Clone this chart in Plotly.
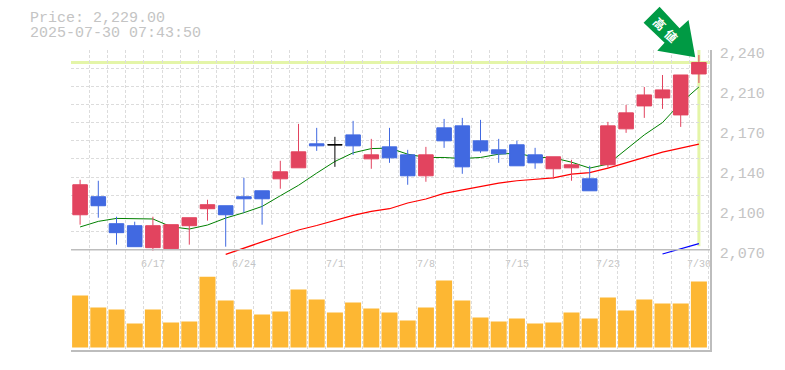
import plotly.graph_objects as go

dates = ["6/11","6/12","6/13","6/16","6/17","6/18","6/19","6/20","6/23","6/24","6/25","6/26","6/27","6/30",
         "7/1","7/2","7/3","7/4","7/7","7/8","7/9","7/10","7/11","7/14","7/15","7/16","7/17","7/18","7/22",
         "7/23","7/24","7/25","7/28","7/29","7/30"]
labelled = ["6/17","6/24","7/1","7/8","7/15","7/23","7/30"]

opens = [2095.6,2111.4,2087.75,2086,2066.75,2065.9,2086,2100.9,2103.5,2111.4,2116.6,2127.1,2136.75,2157.75,
         None,2165.6,2144.6,2155.1,2148.1,2129.75,2171.75,2173.5,2160.4,2152.5,2156.9,2148.1,2135.9,2136.75,2127.1,
         2139.4,2170.9,2191,2198,2183.1,2219]
highs = [2126.25,2125.4,2093.9,2089.5,2093.9,2086.9,2093,2108.75,2103.5,2128,2116.6,2142.9,2175.25,2171.75,
         None,2177.9,2162.1,2171.75,2152.5,2155.1,2179.6,2180.5,2178.75,2162.1,2160.4,2154.25,2146.4,2143.75,2138.5,
         2177,2191.9,2207.6,2218.1,2218.1,2235.6]
lows = [2086.9,2093,2069.4,2067.6,2064.1,2065.9,2069.4,2090.4,2067.6,2097.4,2086.9,2118.4,2136.75,2151.6,
        None,2148.1,2135.9,2141.1,2121.9,2124.5,2154.25,2131.5,2149.9,2141.1,2138.5,2135.9,2127.1,2125.4,2116.6,
        2136.75,2167.4,2180.5,2188.4,2172.6,2211.1]
closes = [2121.9,2103.5,2079.9,2067.6,2086,2086.9,2093,2104.4,2095.6,2109.6,2109.6,2133.25,2150.75,2156,
          None,2156,2148.1,2145.5,2129.75,2148.1,2160.4,2137.6,2151.6,2149,2138.5,2141.1,2146.4,2139.4,2116.6,
          2173.5,2184.9,2200.6,2205,2218.1,2229]
doji_date = ["7/1"]
doji_open = [2156.9]
doji_high = [2163.9]
doji_low = [2137.6]
doji_close = [2156.9]

ma_short = [2084.9,2089.8,2092.4,2091.9,2091.9,2085.1,2083.1,2086.6,2092.7,2097.4,2102.9,2112.25,2121.4,2132.1,
            2142.3,2149.9,2153.6,2154,2148.7,2145.8,2145.8,2144.9,2145.8,2148.7,2149.6,2146.1,2145.5,2141.7,2136.5,
            2140,2152.5,2165.6,2176.4,2193.6,2207.6]
ma_mid = [2060.9,2066.5,2071.8,2077,2082.2,2086.2,2090.4,2095,2098.5,2100.9,2105.9,2109.4,2114.3,2117.2,2120.1,
          2123.4,2125.4,2126.5,2128,2131.2,2132.6,2136.5,2141.1,2146.1,2150.5,2154,2157.5]
ma_long = [2061.2,2065.9,2070.3]
volumes = [52000,40000,38000,24000,38000,25000,26000,71000,47000,38000,33000,36000,58000,48000,35000,45000,39000,
           35000,27000,40000,67000,47000,30000,26000,29000,24000,25000,35000,29000,50000,37000,48000,44000,44000,66000]
last_price = 2229
price_ticks = [2240,2205,2170,2135,2100,2065]
price_text = ["2,240","2,210","2,170","2,140","2,100","2,070"]

W, H = 785, 370
L, R, T, B = 70.5, 710.5, 50.0, 350.5
SPLIT = 256.0
PRICE_TOP = 2240
PX = 0.875
PRICE_LOW = PRICE_TOP - (SPLIT - T) * PX
px = lambda x: (x - L) / (R - L)
py = lambda y: (H - y - (H - B)) / (B - T)

GRID = "#DCDCDC"
AXIS = "#BDBDBD"
TEXT = "#C4C4C4"
MONO = "Liberation Mono"
UP, DOWN = "#E2445F", "#4169E1"
HILITE = "#E4F5A8"
DASH = "3px,2px"

fig = go.Figure()
fig.add_trace(go.Scatter(x=dates, y=ma_short, mode="lines", line=dict(color="#008000", width=1), xaxis="x", yaxis="y"))
fig.add_trace(go.Scatter(x=dates[8:], y=ma_mid, mode="lines", line=dict(color="#FF0000", width=1.2), xaxis="x", yaxis="y"))
fig.add_trace(go.Scatter(x=dates[32:], y=ma_long, mode="lines", line=dict(color="#0000FF", width=1.2), xaxis="x", yaxis="y"))
fig.add_trace(go.Candlestick(x=dates, open=opens, high=highs, low=lows, close=closes, xaxis="x", yaxis="y3",
                             whiskerwidth=0,
                             increasing=dict(line=dict(color=UP, width=1), fillcolor=UP),
                             decreasing=dict(line=dict(color=DOWN, width=1), fillcolor=DOWN)))
fig.add_trace(go.Candlestick(x=doji_date, open=doji_open, high=doji_high, low=doji_low, close=doji_close, xaxis="x", yaxis="y3",
                             whiskerwidth=0,
                             increasing=dict(line=dict(color="#000000", width=1), fillcolor="#000000"),
                             decreasing=dict(line=dict(color="#000000", width=1), fillcolor="#000000")))
fig.add_trace(go.Bar(x=dates, y=volumes, marker=dict(color="#FDB733", line=dict(width=0)), xaxis="x2", yaxis="y2"))

n = len(dates)
xrange = [-0.5, n - 0.5 + 0.11]
common_x = dict(type="category", categoryorder="array", categoryarray=dates, range=xrange, domain=[0, 1],
                tickson="boundaries", tickmode="array", tickvals=dates, showgrid=True, gridcolor=GRID, griddash=DASH,
                gridwidth=1, ticks="", zeroline=False, fixedrange=True)
tick_text = [d if d in labelled else "" for d in dates]
frac = (B - SPLIT) / (B - T)
fig.update_layout(
    width=W, height=H, margin=dict(l=L, r=W - R, t=T, b=H - B, pad=0), showlegend=False,
    paper_bgcolor="white", plot_bgcolor="white", boxgap=0.2, boxgroupgap=0, bargap=0.12, dragmode=False,
    xaxis=dict(common_x, anchor="y", ticktext=tick_text, showticklabels=True, tickangle=0,
               tickfont=dict(family=MONO, size=10, color=TEXT), rangeslider=dict(visible=False), showline=False),
    xaxis2=dict(common_x, anchor="y2", matches="x", showticklabels=False, showline=True, linecolor=AXIS, linewidth=1.5),
    yaxis=dict(domain=[frac, 1], range=[PRICE_LOW, PRICE_TOP], anchor="x", side="right", tickmode="array",
               tickvals=price_ticks, ticktext=price_text, showgrid=False, ticks="", zeroline=False,
               ticklabelstandoff=5, ticklabelshift=3, tickfont=dict(family=MONO, size=15, color=TEXT),
               showline=True, linecolor=AXIS, linewidth=1.5, fixedrange=True,
               minor=dict(tickmode="array", tickvals=[PRICE_TOP - i * 175 / 11 for i in range(12)], showgrid=True,
                          gridcolor=GRID, griddash=DASH, gridwidth=1, ticks="")),
    yaxis3=dict(domain=[frac, 1], range=[PRICE_LOW, PRICE_TOP], overlaying="y", anchor="x", side="right", visible=False, fixedrange=True),
    yaxis2=dict(domain=[0, frac], range=[-2500, 92000], anchor="x2", side="right", showticklabels=False, showgrid=False,
                zeroline=False, ticks="", showline=True, linecolor=AXIS, linewidth=1.5, fixedrange=True),
)
fig.add_shape(type="line", xref="paper", yref="y", x0=0, x1=1, y0=last_price, y1=last_price, layer="below",
              line=dict(color=HILITE, width=3))
fig.add_shape(type="line", xref="x", yref="y", x0=dates[-1], x1=dates[-1], y0=PRICE_TOP, y1=2068, layer="below",
              line=dict(color=HILITE, width=3))
fig.add_shape(type="line", xref="paper", yref="y", x0=0, x1=1, y0=2065, y1=2065, layer="above",
              line=dict(color=AXIS, width=1.5))
arrow = [(660, 6.7), (644, 22.7), (665, 42.7), (657.7, 50.7), (695.7, 57.3), (689, 20), (680, 28.3)]
path = "M " + " L ".join(f"{px(x):.5f},{py(y):.5f}" for x, y in arrow) + " Z"
fig.add_shape(type="path", xref="paper", yref="paper", path=path, fillcolor="#009A44", line=dict(width=0), layer="above")
fig.add_annotation(xref="paper", yref="paper", x=px(660.5), y=py(23.5), text="<b>高</b>", textangle=45, showarrow=False,
                   xanchor="center", yanchor="middle", font=dict(family="Noto Sans CJK JP", size=12, color="white"))
fig.add_annotation(xref="paper", yref="paper", x=px(672.5), y=py(35), text="<b>値</b>", textangle=45, showarrow=False,
                   xanchor="center", yanchor="middle", font=dict(family="Noto Sans CJK JP", size=12, color="white"))
for txt, y in [("Price: 2,229.00", 18), ("2025-07-30 07:43:50", 33)]:
    fig.add_annotation(xref="paper", yref="paper", x=px(27.5), y=py(y), text=txt, showarrow=False, xanchor="left", yanchor="middle",
                       font=dict(family=MONO, size=15, color=TEXT))

fig.write_html("out.html", config=dict(displayModeBar=False),
               post_script="document.body.style.margin='0';document.body.style.overflow='hidden';")
